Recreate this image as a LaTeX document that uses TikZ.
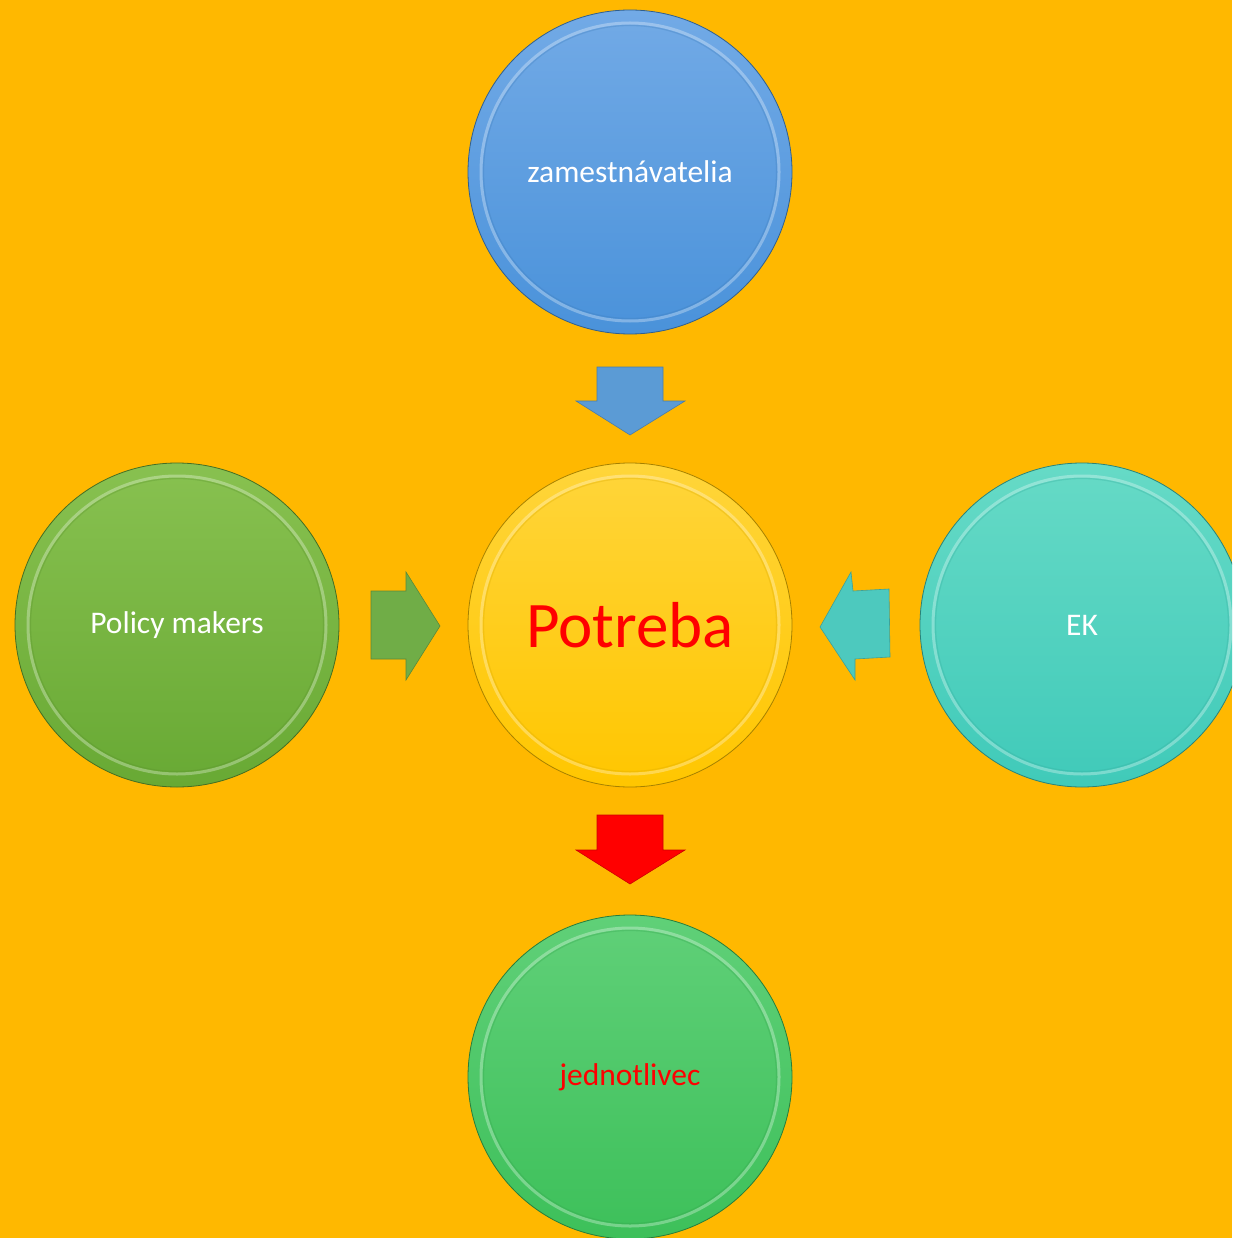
\documentclass[tikz,border=0pt]{standalone}
\usepackage{fontspec}
\setmainfont{Carlito}
\definecolor{bg}{HTML}{FFB800}
\definecolor{blueT}{HTML}{72AAE6}
\definecolor{blueB}{HTML}{4A92DA}
\definecolor{lgreenT}{HTML}{88C150}
\definecolor{lgreenB}{HTML}{68A934}
\definecolor{yelT}{HTML}{FFD53A}
\definecolor{yelB}{HTML}{FFC600}
\definecolor{tealT}{HTML}{66DAC6}
\definecolor{tealB}{HTML}{40CAB9}
\definecolor{dgreenT}{HTML}{60D078}
\definecolor{dgreenB}{HTML}{3DC05A}
\definecolor{arBlue}{HTML}{5B9BD5}
\definecolor{arGreen}{HTML}{70AD47}
\definecolor{arTeal}{HTML}{4DC9BE}
\tikzset{
  ball/.style 2 args={circle, minimum size=324pt, inner sep=0pt,
    draw=#2!65!black, line width=0.8pt, top color=#1, bottom color=#2,
    font=\fontsize{31.5}{36}\selectfont,
    path picture={
      \draw[white, opacity=0.3, line width=3pt]
        (path picture bounding box.center) circle (149pt);
      \draw[#2!85!black, opacity=0.3, line width=1.2pt]
        (path picture bounding box.center) circle (146.5pt);}},
  blockarrow/.style={fill=#1, draw=#1!80!black, line width=0.6pt, line join=miter}
}
\begin{document}
\begin{tikzpicture}[x=1pt,y=-1pt]
\useasboundingbox (0,0) rectangle (1232,1238);
\clip (0,0) rectangle (1232,1238);
\fill[bg] (0,0) rectangle (1232,1238);

\node[ball={blueT}{blueB}, text=white] (zam) at (630,172) {zamestnávatelia};
\node[ball={yelT}{yelB}, text=red, font=\fontsize{65}{70}\selectfont] (pot) at (630,625) {Potreba};
\node[ball={lgreenT}{lgreenB}, text=white] (pol) at (177,625) {Policy makers};
\node[ball={tealT}{tealB}, text=white] (ek) at (1082,625) {EK};
\node[ball={dgreenT}{dgreenB}, text=red] (jed) at (630,1077) {jednotlivec};

% block arrows
\draw[blockarrow=arBlue] (597,367) -- (663,367) -- (663,401) -- (685,401) -- (630,435) -- (576,401) -- (597,401) -- cycle;
\draw[blockarrow=arGreen] (371,591) -- (406,591) -- (406,572) -- (440,626) -- (406,680) -- (406,659) -- (371,659) -- cycle;
\draw[blockarrow=arTeal] (889,589) -- (853,591) -- (851,572) -- (820,627) -- (855,680) -- (855,659) -- (890,657) -- cycle;
\draw[blockarrow=red] (597,815) -- (663,815) -- (663,850) -- (685,850) -- (630,884) -- (576,850) -- (597,850) -- cycle;
\end{tikzpicture}
\end{document}
